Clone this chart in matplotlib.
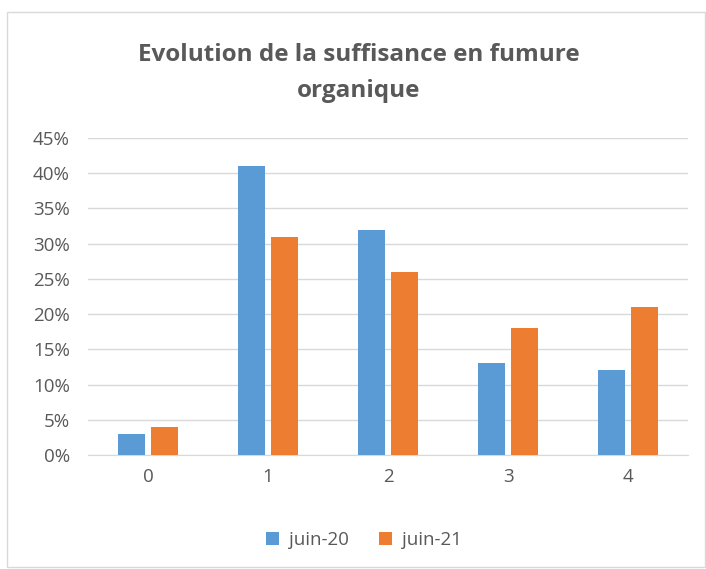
import matplotlib
matplotlib.use("Agg")
import matplotlib.pyplot as plt
import numpy as np
from matplotlib.patches import Rectangle

categories = ["0", "1", "2", "3", "4"]
juin20 = [3, 41, 32, 13, 12]
juin21 = [4, 31, 26, 18, 21]
yticks = [0, 5, 10, 15, 20, 25, 30, 35, 40, 45]
title = "Evolution de la suffisance en fumure\norganique"

plt.rcParams['font.family'] = ['Open Sans', 'DejaVu Sans']
txt = '#595959'
blue = '#5B9BD5'
orange = '#ED7D31'

fig = plt.figure(figsize=(7.06, 5.69), dpi=100)
fig.patches.append(Rectangle((7/706, 2/569), 698/706, 555/569, transform=fig.transFigure,
                             fill=False, edgecolor='#D9D9D9', linewidth=1))
ax = fig.add_axes([88/706, 114/569, 600/706, 317/569])
x = np.arange(len(categories))
w = 0.225
off = 0.141
ax.bar(x - off, juin20, w, color=blue, label='juin-20', zorder=3)
ax.bar(x + off, juin21, w, color=orange, label='juin-21', zorder=3)
ax.set_xlim(-0.5, len(categories) - 0.5)
ax.set_ylim(0, 45)
ax.set_yticks(yticks)
ax.set_yticklabels([f"{v}%" for v in yticks])
ax.set_xticks(x)
ax.set_xticklabels(categories)
ax.yaxis.grid(True, color='#D9D9D9', linewidth=1, zorder=0)
for s in ['top', 'right', 'left']:
    ax.spines[s].set_visible(False)
ax.spines['bottom'].set_color('#D9D9D9')
ax.tick_params(axis='both', length=0, labelsize=13.5, colors=txt, pad=9)
ax.tick_params(axis='y', pad=13)
fig.text(359/706, 1 - 73/569, title, ha='center', va='center', fontsize=17.5, fontweight='bold',
         color=txt, linespacing=1.62)
leg = fig.legend(loc='center', bbox_to_anchor=(364/706, 1 - 540/569), ncol=2, frameon=False,
                 fontsize=13.5, handlelength=0.7, handleheight=0.7, columnspacing=1.6,
                 handletextpad=0.55)
for t in leg.get_texts():
    t.set_color(txt)
fig.savefig("out.png", dpi=100)
